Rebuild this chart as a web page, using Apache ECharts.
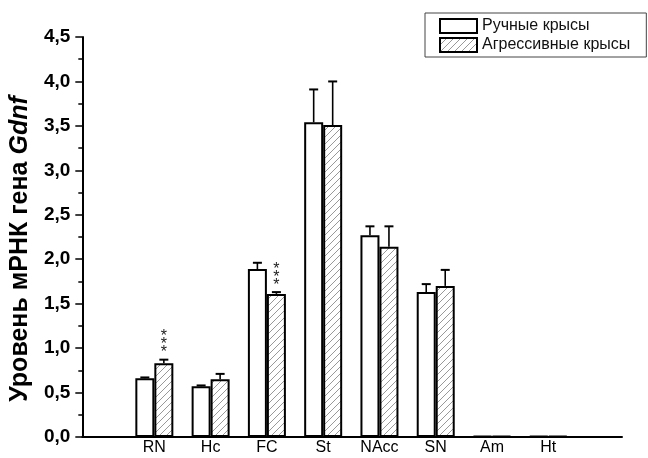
<!DOCTYPE html>
<html>
<head>
<meta charset="utf-8">
<script src="https://cdn.jsdelivr.net/npm/echarts@6/dist/echarts.min.js"></script>
<style>
  html, body { margin: 0; padding: 0; background: #fff; }
  #chart { width: 648px; height: 458px; }
</style>
</head>
<body>
<div id="chart"></div>
<script>
// Brain regions
const categories = ['RN', 'Hc', 'FC', 'St', 'NAcc', 'SN', 'Am', 'Ht'];
// Tame rats: mean and SEM
const tameMeans = [0.66, 0.57, 1.89, 3.54, 2.27, 1.63, 0.01, 0.01];
const tameErr   = [0.01, 0.01, 0.07, 0.37, 0.10, 0.09, 0.00, 0.00];
// Aggressive rats: mean and SEM
const aggrMeans = [0.83, 0.65, 1.61, 3.51, 2.14, 1.70, 0.01, 0.01];
const aggrErr   = [0.04, 0.06, 0.02, 0.49, 0.23, 0.18, 0.00, 0.00];
// Significance marks over the aggressive bars
const aggrSig   = ['***', '', '***', '', '', '', '', ''];
// Y axis
const yMin = 0, yMax = 4.5, yStep = 0.5;

const FONT = '"Liberation Sans", Arial, sans-serif';
const BAR_W = 19;

// Diagonal hatching tile
function hatchTile() {
  const s = 7;
  const c = document.createElement('canvas');
  c.width = s; c.height = s;
  const g = c.getContext('2d');
  g.fillStyle = '#fff';
  g.fillRect(0, 0, s, s);
  g.strokeStyle = '#999';
  g.lineWidth = 1;
  g.beginPath();
  g.moveTo(-1, s + 1); g.lineTo(s + 1, -1);
  g.moveTo(-1, 1); g.lineTo(1, -1);
  g.moveTo(s - 1, s + 1); g.lineTo(s + 1, s - 1);
  g.stroke();
  return c;
}
const hatch = { image: hatchTile(), repeat: 'repeat' };

const xs = categories.map((_, i) => i + 1);
const tameData = xs.map((x, i) => [x, tameMeans[i]]);
const aggrData = xs.map((x, i) => [x, aggrMeans[i]]);
// [x, mean, err, side(-1 left / +1 right), mark]
const errData = [];
xs.forEach((x, i) => {
  errData.push([x, tameMeans[i], tameErr[i], -1, '']);
  errData.push([x, aggrMeans[i], aggrErr[i], 1, aggrSig[i]]);
});

function renderErr(params, api) {
  const x = api.value(0), m = api.value(1), e = api.value(2), side = api.value(3);
  const mark = errData[params.dataIndex][4];
  const base = api.coord([x, m]);
  const top = api.coord([x, m + e]);
  const cx = base[0] + side * BAR_W / 2;
  const children = [];
  if (e > 0) {
    children.push({
      type: 'line',
      shape: { x1: cx, y1: base[1], x2: cx, y2: top[1] },
      style: { stroke: '#000', lineWidth: 1.6 }
    });
    children.push({
      type: 'line',
      shape: { x1: cx - 4.5, y1: top[1], x2: cx + 4.5, y2: top[1] },
      style: { stroke: '#000', lineWidth: 2 }
    });
  }
  if (mark) {
    children.push({
      type: 'text',
      x: cx, y: top[1] - 3,
      style: {
        text: '*\n*\n*',
        fontSize: 16, lineHeight: 8, fontFamily: FONT,
        fill: '#222', align: 'center', verticalAlign: 'bottom'
      }
    });
  }
  return { type: 'group', children };
}

const chart = echarts.init(document.getElementById('chart'), null, { renderer: 'canvas' });
chart.setOption({
  animation: false,
  backgroundColor: '#fff',
  grid: { left: 81, right: 26, top: 37, bottom: 21, containLabel: false },
  legend: {
    orient: 'vertical',
    left: 425, top: 13,
    padding: [5, 16, 4, 14],
    itemGap: 3,
    itemWidth: 37, itemHeight: 14,
    icon: 'rect',
    borderColor: '#444', borderWidth: 1,
    textStyle: { fontFamily: FONT, fontSize: 16, color: '#111' },
    data: ['Ручные крысы', 'Агрессивные крысы']
  },
  xAxis: {
    type: 'value',
    min: -0.28, max: 9.31,
    splitLine: { show: false },
    axisTick: { show: false },
    axisLine: { show: true, onZero: false, lineStyle: { color: '#000', width: 2 } },
    axisLabel: {
      customValues: xs,
      margin: 3,
      fontFamily: FONT, fontSize: 16, color: '#000',
      formatter: v => categories[Math.round(v) - 1] || ''
    }
  },
  yAxis: {
    type: 'value',
    min: yMin, max: yMax, interval: yStep,
    splitLine: { show: false },
    axisLine: { show: true, onZero: false, lineStyle: { color: '#000', width: 2 } },
    axisTick: { show: true, length: 7, lineStyle: { color: '#000', width: 1.5 } },
    minorTick: { show: true, splitNumber: 2, length: 4, lineStyle: { color: '#000', width: 1.5 } },
    axisLabel: {
      margin: 12,
      fontFamily: FONT, fontSize: 19, fontWeight: 'bold', color: '#000',
      formatter: v => v.toFixed(1).replace('.', ',')
    },
    name: '{a|Уровень мРНК гена }{b|Gdnf}',
    nameLocation: 'middle',
    nameRotate: 90,
    nameGap: 48,
    nameTextStyle: {
      padding: [0, 24, 0, 0],
      rich: {
        a: { fontFamily: FONT, fontSize: 25, fontWeight: 'bold', color: '#000' },
        b: { fontFamily: FONT, fontSize: 25, fontWeight: 'bold', fontStyle: 'italic', color: '#000' }
      }
    }
  },
  series: [
    {
      name: 'Ручные крысы',
      type: 'bar',
      data: tameData,
      barWidth: BAR_W,
      barGap: '0%',
      itemStyle: { color: '#fff', borderColor: '#000', borderWidth: 2 }
    },
    {
      name: 'Агрессивные крысы',
      type: 'bar',
      data: aggrData,
      barWidth: BAR_W,
      barGap: '0%',
      itemStyle: { color: hatch, borderColor: '#000', borderWidth: 2 }
    },
    {
      type: 'custom',
      data: errData,
      renderItem: renderErr,
      encode: { x: 0, y: 1 },
      z: 5,
      silent: true
    }
  ]
});
</script>
</body>
</html>
